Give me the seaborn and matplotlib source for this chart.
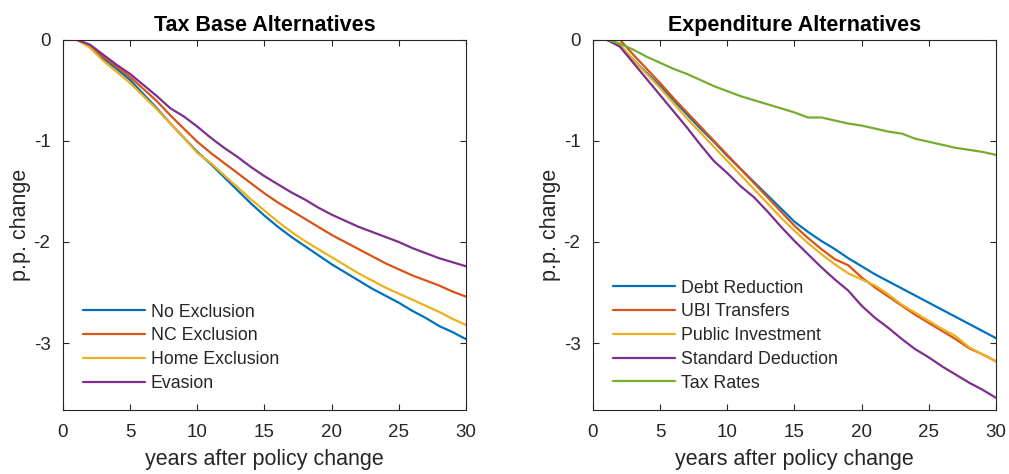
import numpy as np
import pandas as pd
import seaborn as sns
import matplotlib
matplotlib.use("Agg")
import matplotlib.pyplot as plt

years = list(range(1, 31))

# left panel: tax base alternatives
no_exclusion = [0, -0.07, -0.19, -0.29, -0.40, -0.54, -0.68, -0.83, -0.97, -1.11,
                -1.23, -1.36, -1.49, -1.62, -1.74, -1.85, -1.95, -2.04, -2.13, -2.22,
                -2.30, -2.38, -2.46, -2.53, -2.60, -2.68, -2.75, -2.83, -2.89, -2.96]
nc_exclusion = [0, -0.06, -0.17, -0.27, -0.37, -0.49, -0.61, -0.75, -0.88, -1.01,
                -1.12, -1.22, -1.32, -1.42, -1.52, -1.61, -1.69, -1.77, -1.85, -1.93,
                -2.00, -2.07, -2.14, -2.21, -2.27, -2.33, -2.38, -2.43, -2.49, -2.54]
home_exclusion = [0, -0.08, -0.21, -0.32, -0.43, -0.56, -0.69, -0.83, -0.97, -1.12,
                  -1.22, -1.34, -1.46, -1.58, -1.69, -1.80, -1.90, -1.99, -2.07, -2.15,
                  -2.23, -2.31, -2.38, -2.45, -2.51, -2.57, -2.63, -2.69, -2.76, -2.82]
evasion = [0, -0.05, -0.15, -0.25, -0.34, -0.45, -0.56, -0.68, -0.76, -0.86,
           -0.97, -1.07, -1.16, -1.26, -1.35, -1.43, -1.51, -1.58, -1.66, -1.73,
           -1.79, -1.85, -1.90, -1.95, -2.00, -2.06, -2.11, -2.16, -2.20, -2.24]

# right panel: expenditure alternatives
debt_reduction = [0, -0.06, -0.20, -0.33, -0.46, -0.60, -0.74, -0.88, -1.01, -1.15,
                  -1.28, -1.41, -1.54, -1.67, -1.80, -1.90, -1.99, -2.07, -2.16, -2.24,
                  -2.32, -2.39, -2.46, -2.53, -2.60, -2.67, -2.74, -2.81, -2.88, -2.95]
ubi_transfers = [0, 0.0, -0.15, -0.29, -0.43, -0.58, -0.72, -0.86, -1.00, -1.14,
                 -1.28, -1.42, -1.56, -1.70, -1.84, -1.96, -2.07, -2.17, -2.23, -2.35,
                 -2.45, -2.54, -2.63, -2.72, -2.80, -2.88, -2.96, -3.05, -3.11, -3.18]
public_investment = [0, -0.05, -0.20, -0.34, -0.48, -0.63, -0.78, -0.92, -1.06, -1.20,
                     -1.34, -1.48, -1.62, -1.76, -1.89, -2.01, -2.12, -2.22, -2.31, -2.37,
                     -2.43, -2.52, -2.62, -2.70, -2.78, -2.86, -2.93, -3.04, -3.11, -3.18]
standard_deduction = [0, -0.07, -0.23, -0.39, -0.55, -0.71, -0.87, -1.04, -1.20, -1.32,
                      -1.45, -1.56, -1.70, -1.85, -1.99, -2.12, -2.25, -2.37, -2.48, -2.63,
                      -2.75, -2.85, -2.96, -3.06, -3.14, -3.23, -3.31, -3.39, -3.46, -3.54]
tax_rates = [0, -0.04, -0.10, -0.17, -0.23, -0.29, -0.34, -0.40, -0.46, -0.51,
             -0.56, -0.60, -0.64, -0.68, -0.72, -0.77, -0.77, -0.80, -0.83, -0.85,
             -0.88, -0.91, -0.93, -0.98, -1.01, -1.04, -1.07, -1.09, -1.11, -1.14]

left_labels = ["No Exclusion", "NC Exclusion", "Home Exclusion", "Evasion"]
right_labels = ["Debt Reduction", "UBI Transfers", "Public Investment",
                "Standard Deduction", "Tax Rates"]
colors = ["#0072BD", "#D95319", "#EDB120", "#7E2F8E", "#77AC30"]


def long_frame(labels, series):
    rows = []
    for lab, vals in zip(labels, series):
        rows.append(pd.DataFrame({"year": years, "value": vals, "series": lab}))
    return pd.concat(rows, ignore_index=True)


df_left = long_frame(left_labels, [no_exclusion, nc_exclusion, home_exclusion, evasion])
df_right = long_frame(right_labels, [debt_reduction, ubi_transfers, public_investment,
                                     standard_deduction, tax_rates])

sns.set_theme(style="ticks")
plt.rcParams["font.family"] = ["Liberation Sans", "DejaVu Sans"]
plt.rcParams["axes.unicode_minus"] = False
ink = "#262626"

fig = plt.figure(figsize=(10.09, 4.74), dpi=100)
ax1 = fig.add_axes([0.0624, 0.135, 0.3994, 0.7816])
ax2 = fig.add_axes([0.5877, 0.135, 0.3994, 0.7816])

panels = [(ax1, df_left, left_labels, "Tax Base Alternatives", 0.287),
          (ax2, df_right, right_labels, "Expenditure Alternatives", 0.352)]

for ax, df, labels, title, top in panels:
    sns.lineplot(data=df, x="year", y="value", hue="series", hue_order=labels,
                 palette=colors[:len(labels)], linewidth=1.6, ax=ax)
    ax.set_xlim(0, 30)
    ax.set_ylim(-3.66, 0)
    ax.set_xticks([0, 5, 10, 15, 20, 25, 30])
    ax.set_yticks([0, -1, -2, -3])
    ax.set_xlabel("years after policy change", fontsize=15.5, color=ink, labelpad=6)
    ax.set_ylabel("p.p. change", fontsize=15.5, color=ink, labelpad=2)
    ax.set_title(title, fontsize=15.5, fontweight="bold", color="black", pad=6)
    ax.tick_params(direction="in", length=4, width=0.8, colors=ink, labelsize=13.5,
                   top=True, right=True)
    ax.tick_params(axis="x", pad=10)
    ax.tick_params(axis="y", pad=9)
    for s in ax.spines.values():
        s.set_visible(True)
        s.set_color(ink)
        s.set_linewidth(0.8)
    ax.legend(loc="upper left", bbox_to_anchor=(0.05, top), frameon=False,
              fontsize=12.8, handlelength=3.5, handletextpad=0.3,
              labelspacing=0.38, borderaxespad=0.0, borderpad=0.0)

fig.savefig("out.png", dpi=100)
